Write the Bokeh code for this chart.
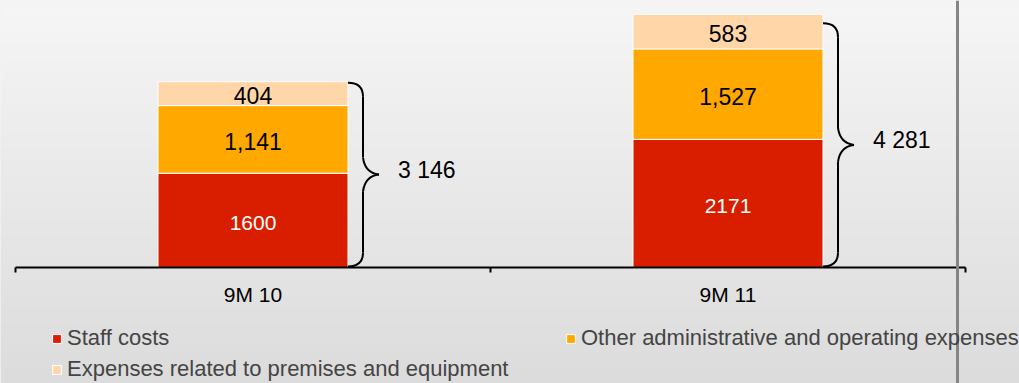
import numpy as np
from bokeh.plotting import figure
from bokeh.models import (ColumnDataSource, Range1d, LinearAxis, FixedTicker, Span,
                          Legend, LegendItem)
from bokeh.core.properties import value
from bokeh.embed import file_html
from bokeh.resources import INLINE

# ---- data ----
categories = ["9M 10", "9M 11"]
staff_costs = [1600, 2171]
other_admin = [1141, 1527]
premises = [404, 583]
total_labels = ["3 146", "4 281"]
series_names = ["Staff costs",
                "Other administrative and operating expenses",
                "Expenses related to premises and equipment"]

# ---- style ----
colors = ["#d91e00", "#ffa800", "#ffd6a8"]
FONT = "Liberation Sans"
W, H = 1019, 383
x_start, x_end = -15 / 475, 1004 / 475
y_start, y_end = -1950, 4515
sx = W / (x_end - x_start)      # px per x unit
sy = H / (y_end - y_start)      # px per y unit
bar_w = 0.4
brace_top_gap_px = [1, 9]

p = figure(width=W, height=H, x_range=Range1d(x_start, x_end),
           y_range=Range1d(y_start, y_end), output_backend="svg",
           toolbar_location=None, min_border=0, x_axis_type=None, y_axis_type=None)
p.outline_line_color = None
p.background_fill_color = "#e8e8e8"
p.border_fill_color = "#e8e8e8"

# background gradient
n = 383
t = np.linspace(0, 1, n)
top_c, bot_c = 246, 220
vals = (bot_c + (top_c - bot_c) * t).astype(np.uint8)
img = np.empty((n, 1), dtype=np.uint32)
view = img.view(dtype=np.uint8).reshape((n, 1, 4))
view[:, 0, 0] = vals
view[:, 0, 1] = vals
view[:, 0, 2] = vals
view[:, 0, 3] = 255
p.image_rgba(image=[img], x=x_start, y=y_start, dw=x_end - x_start, dh=y_end - y_start)

# bars
xs = [i + 0.5 for i in range(len(categories))]
src = ColumnDataSource(dict(x=xs, staff=staff_costs, other=other_admin, prem=premises))
rs = p.vbar_stack(["staff", "other", "prem"], x="x", width=bar_w, source=src,
                  fill_color=colors, line_color="white", line_width=1)

# segment labels
base = np.zeros(len(xs))
for vals_s, col, fs, fmt in [(staff_costs, "white", "21px", lambda v: str(v)),
                             (other_admin, "black", "23px", lambda v: f"{v:,}"),
                             (premises, "black", "23px", lambda v: f"{v:,}")]:
    v = np.array(vals_s, dtype=float)
    centers = base + v / 2
    p.text(x=xs, y=list(centers), text=[fmt(a) for a in vals_s], text_align="center",
           text_baseline="middle", text_color=col, text_font=value(FONT),
           text_font_size=fs, y_offset=2)
    base = base + v

totals = list(base)

# braces
for i, x in enumerate(xs):
    edge = x + bar_w / 2
    vert = edge + 15 / sx
    tip = edge + 31 / sx
    top = totals[i] - brace_top_gap_px[i] / sy
    bot = 1.5 / sy
    mid = (top + bot) / 2
    r = 14 / sy
    rm = 17 / sy
    kw = dict(line_color="black", line_width=2)
    p.quadratic(x0=[edge], y0=[top], x1=[vert], y1=[top - r], cx=[vert], cy=[top], **kw)
    p.segment(x0=[vert], y0=[top - r], x1=[vert], y1=[mid + rm], **kw)
    p.quadratic(x0=[vert], y0=[mid + rm], x1=[tip], y1=[mid], cx=[vert + 2 / sx], cy=[mid + rm * 0.1], **kw)
    p.quadratic(x0=[tip], y0=[mid], x1=[vert], y1=[mid - rm], cx=[vert + 2 / sx], cy=[mid - rm * 0.1], **kw)
    p.segment(x0=[vert], y0=[mid - rm], x1=[vert], y1=[bot + r], **kw)
    p.quadratic(x0=[vert], y0=[bot + r], x1=[edge], y1=[bot], cx=[vert], cy=[bot], **kw)
    p.text(x=[tip + 19 / sx], y=[mid + 5 / sy], text=[total_labels[i]], text_align="left",
           text_baseline="middle", text_color="black", text_font=value(FONT),
           text_font_size="23px")

# gray vertical line (slide frame)
p.add_layout(Span(location=(957 - 15) / 475, dimension="height", line_color="#858585",
                  line_width=3))

# axes
tick_axis = LinearAxis(fixed_location=0, ticker=FixedTicker(ticks=[0, 1, 2]), bounds=(0, 2),
                       major_label_text_color=None, major_tick_in=0, major_tick_out=5,
                       minor_tick_in=0, minor_tick_out=0, axis_line_width=2,
                       axis_line_color="black", major_tick_line_width=2,
                       major_tick_line_color="black")
label_axis = LinearAxis(fixed_location=0, ticker=FixedTicker(ticks=xs),
                        major_label_overrides={x: c for x, c in zip(xs, categories)},
                        axis_line_color=None, major_tick_line_color=None,
                        minor_tick_line_color=None, major_tick_in=0, major_tick_out=0,
                        major_label_standoff=15, major_label_text_font=FONT,
                        major_label_text_font_size="21px", major_label_text_color="black")
p.add_layout(tick_axis, "below")
p.add_layout(label_axis, "below")

# legends
leg_kw = dict(glyph_width=11, glyph_height=11, label_standoff=5, padding=0,
              margin=0, border_line_color=None, background_fill_alpha=0,
              label_text_font=FONT, label_text_font_size="22px", label_height=22)
leg1 = Legend(items=[LegendItem(label=series_names[0], renderers=[rs[0]]),
                     LegendItem(label=series_names[2], renderers=[rs[2]])],
              location=(51, 1), spacing=5, **leg_kw)
leg2 = Legend(items=[LegendItem(label=series_names[1], renderers=[rs[1]])],
              location=(565, 32), spacing=5, **leg_kw)
p.add_layout(leg1)
p.add_layout(leg2)

open("out.html", "w").write(file_html(p, INLINE))
